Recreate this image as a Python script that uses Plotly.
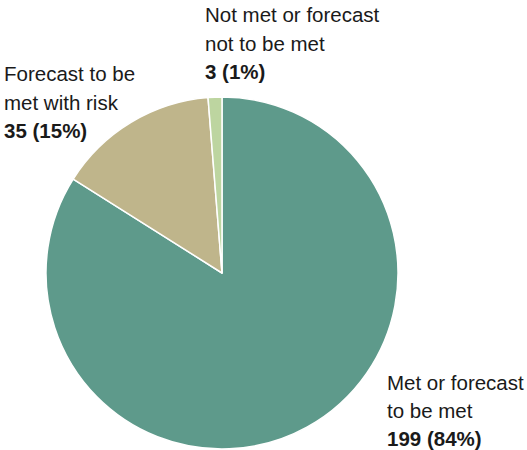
import plotly.graph_objects as go

W, H = 527, 450

categories = ["Met or forecast to be met", "Forecast to be met with risk", "Not met or forecast not to be met"]
values = [199, 35, 3]
percents = ["84%", "15%", "1%"]
colors = ["#5e9a8b", "#bfb58b", "#bdd5a0"]

label_lines = [
    ["Met or forecast", "to be met"],
    ["Forecast to be", "met with risk"],
    ["Not met or forecast", "not to be met"],
]
# label anchor (left x px, first-line baseline px)
label_pos = [(385, 388), (2, 80), (203, 21)]
line_gap = 28
font_size = 20.5

fig = go.Figure()
cx, cy, r = 222, 273, 176
fig.add_trace(go.Pie(
    labels=categories,
    values=values,
    sort=False,
    direction="clockwise",
    rotation=0,
    textinfo="none",
    hoverinfo="label+value+percent",
    marker=dict(colors=colors, line=dict(color="white", width=1.5)),
    domain=dict(x=[(cx - r) / W, (cx + r) / W], y=[1 - (cy + r) / H, 1 - (cy - r) / H]),
    showlegend=False,
))

annotations = []
for i, lines in enumerate(label_lines):
    x0, b0 = label_pos[i]
    texts = lines + [f"<b>{values[i]} ({percents[i]})</b>"]
    for j, t in enumerate(texts):
        base = b0 + j * line_gap
        annotations.append(dict(
            x=x0 / W, y=1 - (base - 6) / H, xref="paper", yref="paper",
            xanchor="left", yanchor="middle", showarrow=False, text=t,
            font=dict(family="Liberation Sans, Arial, sans-serif", size=font_size, color="#1a1a1a"),
        ))

fig.update_layout(
    width=W, height=H,
    margin=dict(l=0, r=0, t=0, b=0),
    paper_bgcolor="white", plot_bgcolor="white",
    annotations=annotations,
)
fig.write_html("out.html")
